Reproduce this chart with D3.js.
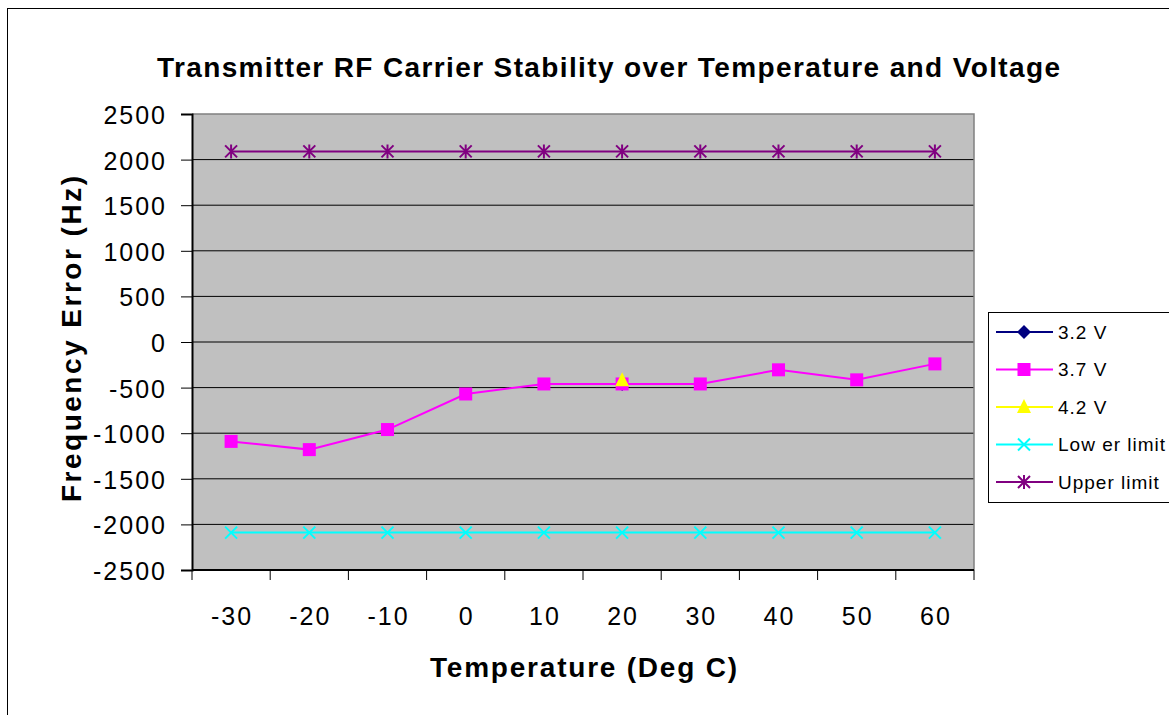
<!DOCTYPE html>
<html>
<head>
<meta charset="utf-8">
<script src="https://cdn.jsdelivr.net/npm/d3@7"></script>
<style>
  html, body { margin: 0; padding: 0; background: #fff; }
  svg { display: block; font-family: "Liberation Sans", Arial, sans-serif; }
</style>
</head>
<body>
<svg id="chart" width="1169" height="715"></svg>
<script>
// Temperature categories (Deg C)
const temperatures = [-30, -20, -10, 0, 10, 20, 30, 40, 50, 60];
// Frequency error (Hz) per supply voltage; null = not measured
const v32 = [null, null, null, null, null, -460, null, null, null, null];
const v37 = [-1090, -1180, -960, -570, -460, -460, -460, -305, -415, -240];
const v42 = [null, null, null, null, null, -420, null, null, null, null];
const lowerLimit = [-2090, -2090, -2090, -2090, -2090, -2090, -2090, -2090, -2090, -2090];
const upperLimit = [2090, 2090, 2090, 2090, 2090, 2090, 2090, 2090, 2090, 2090];
const yTicks = [2500, 2000, 1500, 1000, 500, 0, -500, -1000, -1500, -2000, -2500];

const series = [
  { name: "3.2 V", values: v32, color: "#000080", marker: "diamond" },
  { name: "3.7 V", values: v37, color: "#ff00ff", marker: "square" },
  { name: "4.2 V", values: v42, color: "#ffff00", marker: "triangle" },
  { name: "Low er limit", values: lowerLimit, color: "#00ffff", marker: "x" },
  { name: "Upper limit", values: upperLimit, color: "#800080", marker: "star" }
];

const svg = d3.select("#chart");
const plot = { left: 192, top: 114, right: 974, bottom: 570 };

// Outer chart frame
svg.append("rect")
  .attr("x", 7.5).attr("y", 8.5)
  .attr("width", 1200).attr("height", 800)
  .attr("fill", "#fff").attr("stroke", "#000").attr("stroke-width", 1);

const x = d3.scaleBand().domain(temperatures).range([plot.left, plot.right]);
const y = d3.scaleLinear().domain([-2500, 2500]).range([plot.bottom, plot.top]);

// Plot background
svg.append("rect")
  .attr("x", plot.left).attr("y", plot.top)
  .attr("width", plot.right - plot.left).attr("height", plot.bottom - plot.top)
  .attr("fill", "#c0c0c0");

// Horizontal gridlines
svg.append("g").selectAll("line")
  .data(yTicks.filter(t => t > -2500 && t < 2500))
  .join("line")
  .attr("x1", plot.left).attr("x2", plot.right)
  .attr("y1", d => y(d)).attr("y2", d => y(d))
  .attr("stroke", "#000").attr("stroke-width", 1);

// Plot border top / right
svg.append("path")
  .attr("d", `M${plot.left},${plot.top}H${plot.right}V${plot.bottom}`)
  .attr("fill", "none").attr("stroke", "#808080").attr("stroke-width", 1.5);

// Y axis
const yAxis = svg.append("g")
  .attr("transform", `translate(${plot.left},0)`)
  .call(d3.axisLeft(y).tickValues(yTicks).tickSize(11).tickPadding(0).tickFormat(d => String(d)));
yAxis.select(".domain").attr("stroke", "#000").attr("stroke-width", 2);
yAxis.selectAll(".tick line").attr("stroke", "#000");
yAxis.selectAll("text")
  .attr("x", -25)
  .attr("dy", null)
  .attr("y", 9.5)
  .attr("font-size", 25).attr("fill", "#000")
  .attr("letter-spacing", "2px")
  .attr("font-family", "'Liberation Sans', Arial, sans-serif");

// X axis: ticks at category boundaries
const bounds = temperatures.map(t => x(t)).concat([x(temperatures[temperatures.length - 1]) + x.bandwidth()]);
const xAxisG = svg.append("g");
xAxisG.append("line")
  .attr("x1", plot.left).attr("x2", plot.right)
  .attr("y1", plot.bottom).attr("y2", plot.bottom)
  .attr("stroke", "#000").attr("stroke-width", 2);
xAxisG.selectAll(".tk").data(bounds).join("line")
  .attr("class", "tk")
  .attr("x1", d => d).attr("x2", d => d)
  .attr("y1", plot.bottom).attr("y2", plot.bottom + 10)
  .attr("stroke", "#000").attr("stroke-width", 1);
xAxisG.selectAll("text").data(temperatures).join("text")
  .attr("x", d => x(d) + x.bandwidth() / 2 + 1)
  .attr("y", 625)
  .attr("text-anchor", "middle")
  .attr("font-size", 25)
  .attr("letter-spacing", "2px")
  .text(d => String(d));

// Titles
svg.append("text")
  .attr("x", 608.5).attr("y", 77)
  .attr("text-anchor", "middle")
  .attr("font-size", 28).attr("font-weight", "bold")
  .attr("textLength", 903).attr("lengthAdjust", "spacing")
  .text("Transmitter RF Carrier Stability over Temperature and Voltage");

svg.append("text")
  .attr("x", 583.5).attr("y", 677)
  .attr("text-anchor", "middle")
  .attr("font-size", 28).attr("font-weight", "bold")
  .attr("textLength", 307).attr("lengthAdjust", "spacing")
  .text("Temperature (Deg C)");

svg.append("text")
  .attr("transform", "translate(81,339) rotate(-90)")
  .attr("text-anchor", "middle")
  .attr("font-size", 28).attr("font-weight", "bold")
  .attr("textLength", 326).attr("lengthAdjust", "spacing")
  .text("Frequency Error (Hz)");

// Marker drawing
function drawMarker(g, type, color, cx, cy) {
  if (type === "diamond") {
    g.append("path").attr("d", `M${cx},${cy - 7}L${cx + 7},${cy}L${cx},${cy + 7}L${cx - 7},${cy}Z`)
      .attr("fill", color);
  } else if (type === "square") {
    g.append("rect").attr("x", cx - 6.5).attr("y", cy - 6.5).attr("width", 13).attr("height", 13)
      .attr("fill", color);
  } else if (type === "triangle") {
    g.append("path").attr("d", `M${cx},${cy - 8}L${cx + 7},${cy + 6}L${cx - 7},${cy + 6}Z`)
      .attr("fill", color);
  } else if (type === "x") {
    g.append("path").attr("d", `M${cx - 6},${cy - 6}L${cx + 6},${cy + 6}M${cx - 6},${cy + 6}L${cx + 6},${cy - 6}`)
      .attr("stroke", color).attr("stroke-width", 2).attr("fill", "none");
  } else if (type === "star") {
    g.append("path").attr("d", `M${cx - 6},${cy - 6}L${cx + 6},${cy + 6}M${cx - 6},${cy + 6}L${cx + 6},${cy - 6}M${cx},${cy - 7}V${cy + 7}`)
      .attr("stroke", color).attr("stroke-width", 2).attr("fill", "none");
  }
}

// Series lines and markers
const line = d3.line()
  .defined(d => d.v !== null)
  .x(d => x(d.t) + x.bandwidth() / 2)
  .y(d => y(d.v));

series.forEach(s => {
  const pts = temperatures.map((t, i) => ({ t, v: s.values[i] }));
  const g = svg.append("g");
  g.append("path").datum(pts)
    .attr("d", line)
    .attr("fill", "none").attr("stroke", s.color).attr("stroke-width", 2);
  pts.filter(p => p.v !== null).forEach(p => {
    drawMarker(g, s.marker, s.color, x(p.t) + x.bandwidth() / 2, y(p.v));
  });
});

// Legend
const legend = svg.append("g");
legend.append("rect")
  .attr("x", 988.5).attr("y", 312.5).attr("width", 190).attr("height", 190)
  .attr("fill", "#fff").attr("stroke", "#000").attr("stroke-width", 1);
series.forEach((s, i) => {
  const ly = 332 + i * 37.5;
  legend.append("line")
    .attr("x1", 996).attr("x2", 1053).attr("y1", ly).attr("y2", ly)
    .attr("stroke", s.color).attr("stroke-width", 2);
  drawMarker(legend, s.marker, s.color, 1024, ly);
  legend.append("text")
    .attr("x", 1058).attr("y", ly + 6.5)
    .attr("font-size", 19)
    .attr("letter-spacing", "1px")
    .text(s.name);
});
</script>
</body>
</html>
